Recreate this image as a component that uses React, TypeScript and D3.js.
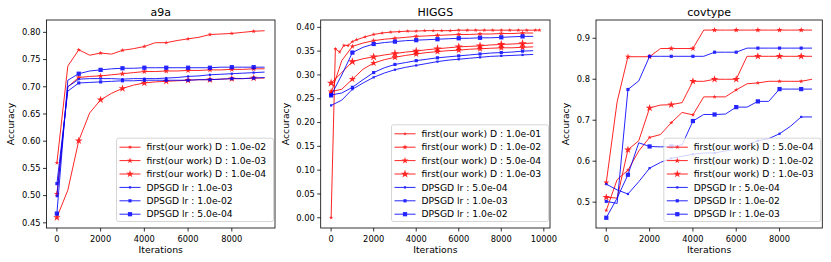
import React from 'react';
import * as d3 from 'd3';

const FONT = '"DejaVu Sans", sans-serif';
const RED = '#ff0000';
const BLUE = '#0000ff';

// shared iteration grid (every 500 iterations)
const ITERS = [0, 500, 1000, 1500, 2000, 2500, 3000, 3500, 4000, 4500,
  5000, 5500, 6000, 6500, 7000, 7500, 8000, 8500, 9000, 9500];

// ---- a9a ----
const a9aFirst1e2 = [0.560, 0.738, 0.768, 0.758, 0.762, 0.760, 0.767, 0.770, 0.774, 0.781,
  0.781, 0.785, 0.788, 0.791, 0.796, 0.797, 0.798, 0.800, 0.802, 0.803];
const a9aFirst1e3 = [0.503, 0.700, 0.717, 0.719, 0.720, 0.722, 0.724, 0.726, 0.728, 0.728,
  0.729, 0.729, 0.730, 0.730, 0.731, 0.731, 0.732, 0.732, 0.733, 0.733];
const a9aFirst1e4 = [0.460, 0.510, 0.601, 0.652, 0.676, 0.688, 0.697, 0.703, 0.707, 0.709,
  0.710, 0.711, 0.712, 0.713, 0.713, 0.714, 0.715, 0.715, 0.716, 0.716];
const a9aDp1e3 = [0.499, 0.700, 0.714, 0.715, 0.715, 0.715, 0.714, 0.715, 0.715, 0.715,
  0.716, 0.717, 0.719, 0.720, 0.722, 0.723, 0.724, 0.725, 0.726, 0.727];
const a9aDp1e2 = [0.522, 0.692, 0.707, 0.708, 0.709, 0.710, 0.711, 0.711, 0.712, 0.712,
  0.712, 0.712, 0.712, 0.713, 0.713, 0.714, 0.715, 0.715, 0.716, 0.717];
const a9aDp5e4 = [0.467, 0.712, 0.724, 0.729, 0.731, 0.733, 0.734, 0.734, 0.735, 0.735,
  0.735, 0.735, 0.735, 0.735, 0.735, 0.736, 0.736, 0.736, 0.736, 0.736];

// ---- HIGGS ----
const higgsFastIters = [0, 200, 400, 600, 800, 1000, 1200, 1600, 2000, 2400, 2800, 3200,
  3600, 4000, 4400, 4800, 5200, 5600, 6000, 6400, 6800, 7200, 7600, 8000, 8400, 8800,
  9200, 9600, 9800];
const higgsFirst1e1 = [0.000, 0.355, 0.348, 0.362, 0.362, 0.370, 0.374, 0.380, 0.385, 0.388,
  0.390, 0.391, 0.392, 0.392, 0.393, 0.393, 0.393, 0.393, 0.394, 0.394, 0.394, 0.394,
  0.394, 0.394, 0.394, 0.394, 0.394, 0.394, 0.394];
const higgsFirst1e2 = [0.262, 0.330, 0.360, 0.367, 0.372, 0.375, 0.377, 0.379, 0.381, 0.382,
  0.383, 0.384, 0.385, 0.385, 0.386, 0.386, 0.387, 0.387, 0.388, 0.388];
const higgsFirst5e4 = [0.265, 0.270, 0.291, 0.312, 0.325, 0.332, 0.337, 0.341, 0.344, 0.347,
  0.349, 0.351, 0.352, 0.354, 0.355, 0.356, 0.357, 0.357, 0.358, 0.359];
const higgsFirst1e3 = [0.283, 0.305, 0.328, 0.334, 0.338, 0.342, 0.345, 0.348, 0.350, 0.353,
  0.355, 0.357, 0.359, 0.360, 0.361, 0.363, 0.364, 0.365, 0.366, 0.367];
const higgsDp5e4 = [0.236, 0.247, 0.270, 0.283, 0.295, 0.304, 0.311, 0.316, 0.320, 0.324,
  0.328, 0.331, 0.333, 0.335, 0.337, 0.339, 0.340, 0.341, 0.342, 0.343];
const higgsDp1e3 = [0.258, 0.262, 0.274, 0.290, 0.305, 0.315, 0.322, 0.326, 0.330, 0.333,
  0.336, 0.338, 0.340, 0.342, 0.344, 0.346, 0.347, 0.348, 0.350, 0.351];
const higgsDp1e2 = [0.257, 0.300, 0.347, 0.358, 0.365, 0.368, 0.370, 0.372, 0.373, 0.374,
  0.375, 0.376, 0.377, 0.377, 0.378, 0.378, 0.379, 0.380, 0.381, 0.381];

// ---- covtype ----
const covFirst5e4 = [0.480, 0.555, 0.578, 0.625, 0.658, 0.665, 0.694, 0.719, 0.713, 0.757,
  0.757, 0.757, 0.774, 0.789, 0.791, 0.795, 0.795, 0.795, 0.795, 0.800];
const covFirst1e2 = [0.548, 0.745, 0.855, 0.855, 0.855, 0.875, 0.875, 0.875, 0.875, 0.920,
  0.920, 0.920, 0.920, 0.920, 0.920, 0.920, 0.920, 0.920, 0.920, 0.920];
const covFirst1e3 = [0.512, 0.510, 0.628, 0.650, 0.730, 0.737, 0.738, 0.743, 0.795, 0.795,
  0.800, 0.800, 0.800, 0.856, 0.856, 0.856, 0.856, 0.856, 0.856, 0.856];
const covDp5e4 = [0.544, 0.530, 0.520, 0.550, 0.583, 0.597, 0.607, 0.612, 0.617, 0.620,
  0.620, 0.625, 0.630, 0.640, 0.650, 0.655, 0.667, 0.685, 0.708, 0.708];
const covDp1e2 = [0.502, 0.497, 0.775, 0.796, 0.856, 0.856, 0.856, 0.856, 0.856, 0.856,
  0.866, 0.866, 0.866, 0.876, 0.876, 0.876, 0.876, 0.876, 0.876, 0.876];
const covDp1e3 = [0.462, 0.510, 0.567, 0.645, 0.636, 0.635, 0.636, 0.640, 0.698, 0.714,
  0.714, 0.715, 0.732, 0.732, 0.746, 0.746, 0.776, 0.776, 0.776, 0.776];

type Series = {
  label: string;
  color: string;
  marker: 'star' | 'square';
  size: number;
  xs: number[];
  ys: number[];
  markAll?: boolean;
};

type PanelCfg = {
  title: string;
  left: number;
  right: number;
  top: number;
  bottom: number;
  xDomain: [number, number];
  yDomain: [number, number];
  yTickCount: number;
  yFormat: string;
  yLabelX: number;
  series: Series[];
};

const panels: PanelCfg[] = [
  {
    title: 'a9a', left: 46.5, right: 275, top: 20, bottom: 228,
    xDomain: [-475, 9975], yDomain: [0.4405, 0.8227], yTickCount: 8, yFormat: '.2f', yLabelX: 11,
    series: [
      { label: 'first(our work) D : 1.0e-02', color: RED, marker: 'star', size: 6, xs: ITERS, ys: a9aFirst1e2 },
      { label: 'first(our work) D : 1.0e-03', color: RED, marker: 'star', size: 11, xs: ITERS, ys: a9aFirst1e3 },
      { label: 'first(our work) D : 1.0e-04', color: RED, marker: 'star', size: 18, xs: ITERS, ys: a9aFirst1e4 },
      { label: 'DPSGD lr : 1.0e-03', color: BLUE, marker: 'square', size: 5, xs: ITERS, ys: a9aDp1e3 },
      { label: 'DPSGD lr : 1.0e-02', color: BLUE, marker: 'square', size: 10, xs: ITERS, ys: a9aDp1e2 },
      { label: 'DPSGD lr : 5.0e-04', color: BLUE, marker: 'square', size: 18, xs: ITERS, ys: a9aDp5e4 },
    ],
  },
  {
    title: 'HIGGS', left: 320.7, right: 550, top: 20, bottom: 228,
    xDomain: [-490, 10290], yDomain: [-0.0215, 0.4154], yTickCount: 8, yFormat: '.2f', yLabelX: 286,
    series: [
      { label: 'first(our work) D : 1.0e-01', color: RED, marker: 'star', size: 5, xs: higgsFastIters, ys: higgsFirst1e1, markAll: true },
      { label: 'first(our work) D : 1.0e-02', color: RED, marker: 'star', size: 9, xs: ITERS, ys: higgsFirst1e2 },
      { label: 'first(our work) D : 5.0e-04', color: RED, marker: 'star', size: 15, xs: ITERS, ys: higgsFirst5e4 },
      { label: 'first(our work) D : 1.0e-03', color: RED, marker: 'star', size: 22, xs: ITERS, ys: higgsFirst1e3 },
      { label: 'DPSGD lr : 5.0e-04', color: BLUE, marker: 'square', size: 5, xs: ITERS, ys: higgsDp5e4 },
      { label: 'DPSGD lr : 1.0e-03', color: BLUE, marker: 'square', size: 10, xs: ITERS, ys: higgsDp1e3 },
      { label: 'DPSGD lr : 1.0e-02', color: BLUE, marker: 'square', size: 18, xs: ITERS, ys: higgsDp1e2 },
    ],
  },
  {
    title: 'covtype', left: 596, right: 822.3, top: 20, bottom: 228,
    xDomain: [-475, 9975], yDomain: [0.437, 0.9446], yTickCount: 5, yFormat: '.1f', yLabelX: 565.5,
    series: [
      { label: 'first(our work) D : 5.0e-04', color: RED, marker: 'star', size: 6, xs: ITERS, ys: covFirst5e4 },
      { label: 'first(our work) D : 1.0e-02', color: RED, marker: 'star', size: 11, xs: ITERS, ys: covFirst1e2 },
      { label: 'first(our work) D : 1.0e-03', color: RED, marker: 'star', size: 18, xs: ITERS, ys: covFirst1e3 },
      { label: 'DPSGD lr : 5.0e-04', color: BLUE, marker: 'square', size: 5, xs: ITERS, ys: covDp5e4 },
      { label: 'DPSGD lr : 1.0e-02', color: BLUE, marker: 'square', size: 10, xs: ITERS, ys: covDp1e2 },
      { label: 'DPSGD lr : 1.0e-03', color: BLUE, marker: 'square', size: 18, xs: ITERS, ys: covDp1e3 },
    ],
  },
];

function markerPath(s: Series) {
  const type = s.marker === 'star' ? d3.symbolStar : d3.symbolSquare;
  return d3.symbol().type(type).size(s.size)() || '';
}

function Panel({ cfg }: { cfg: PanelCfg }) {
  const x = d3.scaleLinear().domain(cfg.xDomain).range([cfg.left, cfg.right]);
  const y = d3.scaleLinear().domain(cfg.yDomain).range([cfg.bottom, cfg.top]);
  const xTicks = x.ticks(5).filter(t => t >= 0);
  const yTicks = y.ticks(cfg.yTickCount);
  const yFmt = d3.format(cfg.yFormat);

  // legend geometry
  const rowH = 13.4;
  const n = cfg.series.length;
  const legH = 9 + (n - 1) * rowH + 7.3;
  const legW = 157;
  const legR = cfg.right - 1.5;
  const legL = legR - legW;
  const legB = cfg.bottom - 6.5;
  const legT = legB - legH;
  const cx = (cfg.left + cfg.right) / 2;

  return (
    <g>
      {cfg.series.map((s, si) => {
        const pts = s.xs.map((v, i) => [x(v), y(s.ys[i])] as [number, number]);
        const path = d3.line()(pts) || '';
        const mpath = markerPath(s);
        return (
          <g key={si} opacity={0.85}>
            <path d={path} fill="none" stroke={s.color} strokeWidth={1} />
            {s.xs.map((v, i) =>
              s.markAll || v % 1000 === 0 ? (
                <path key={i} d={mpath} transform={`translate(${pts[i][0]},${pts[i][1]})`} fill={s.color} />
              ) : null
            )}
          </g>
        );
      })}

      {/* frame */}
      <rect x={cfg.left} y={cfg.top} width={cfg.right - cfg.left} height={cfg.bottom - cfg.top}
        fill="none" stroke="#000" strokeWidth={0.8} />

      {/* x axis */}
      {xTicks.map(t => (
        <g key={t} transform={`translate(${x(t)},${cfg.bottom})`}>
          <line y2={3.5} stroke="#000" strokeWidth={0.8} />
          <text y={13.5} textAnchor="middle" fontSize={8.3} fontFamily={FONT} fill="#000">{t}</text>
        </g>
      ))}
      <text x={cx} y={252.5} textAnchor="middle" fontSize={9.3} fontFamily={FONT} fill="#000">Iterations</text>

      {/* y axis */}
      {yTicks.map(t => (
        <g key={t} transform={`translate(${cfg.left},${y(t)})`}>
          <line x2={-3.5} stroke="#000" strokeWidth={0.8} />
          <text x={-6} dy="0.33em" textAnchor="end" fontSize={8.3} fontFamily={FONT} fill="#000">{yFmt(t)}</text>
        </g>
      ))}
      <text transform={`translate(${cfg.yLabelX},${(cfg.top + cfg.bottom) / 2}) rotate(-90)`}
        dy="0.35em" textAnchor="middle" fontSize={9.3} fontFamily={FONT} fill="#000">Accuracy</text>

      {/* title */}
      <text x={cx} y={15.5} textAnchor="middle" fontSize={11} fontFamily={FONT} fill="#000">{cfg.title}</text>

      {/* legend */}
      <rect x={legL} y={legT} width={legW} height={legH} rx={2} fill="#fff" fillOpacity={0.8}
        stroke="#cccccc" strokeWidth={0.8} />
      {cfg.series.map((s, i) => {
        const ry = legT + 9 + i * rowH;
        return (
          <g key={i}>
            <g opacity={0.85}>
              <line x1={legL + 3} x2={legL + 24} y1={ry} y2={ry} stroke={s.color} strokeWidth={1} />
              <path d={markerPath(s)} transform={`translate(${legL + 13.5},${ry})`} fill={s.color} />
            </g>
            <text x={legL + 30} y={ry} dy="0.35em" fontSize={9.2} fontFamily={FONT} fill="#000">{s.label}</text>
          </g>
        );
      })}
    </g>
  );
}

export default function App() {
  return (
    <svg width={831} height={262} viewBox="0 0 831 262"
      style={{ position: 'absolute', left: 0, top: 0, background: '#fff' }}>
      {panels.map(p => <Panel key={p.title} cfg={p} />)}
    </svg>
  );
}
